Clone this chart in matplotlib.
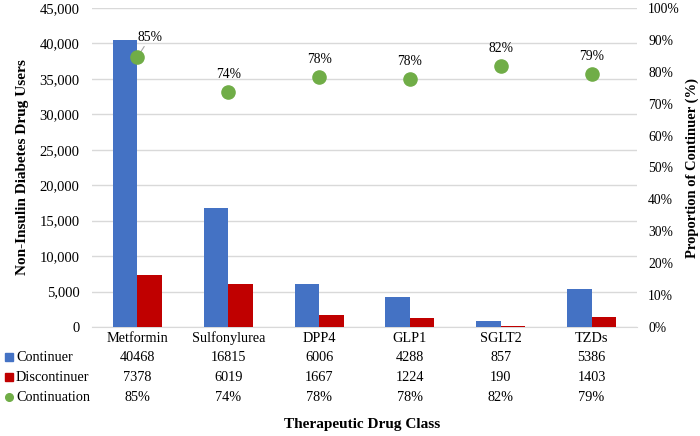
import matplotlib.pyplot as plt
import matplotlib.transforms as mtransforms
import numpy as np

plt.rcParams['font.family'] = ['Liberation Serif', 'DejaVu Serif']

classes = ['Metformin', 'Sulfonylurea', 'DPP4', 'GLP1', 'SGLT2', 'TZDs']
continuer = [40468, 16815, 6006, 4288, 857, 5386]
discontinuer = [7378, 6019, 1667, 1224, 190, 1403]
# proportion of continuers (%), dot positions
proportion = [84.6, 73.6, 78.3, 77.8, 81.9, 79.3]
prop_labels = ['85%', '74%', '78%', '78%', '82%', '79%']

blue = '#4472C4'
red = '#C00000'
green = '#70AD47'

fig = plt.figure(figsize=(7, 4.36), dpi=100)
ax = fig.add_axes([92 / 700, 1 - 327 / 436, 545 / 700, 319 / 436])
ax2 = ax.twinx()

x = np.arange(len(classes))
w = 0.27
ax.bar(x - w / 2, continuer, w, color=blue, zorder=3)
ax.bar(x + w / 2, discontinuer, w, color=red, zorder=3)

ax.set_xlim(-0.5, len(classes) - 0.5)
ax.set_ylim(0, 45000)
ax.set_yticks(np.arange(0, 45001, 5000))
ax.set_yticklabels([f'{v:,}' for v in range(0, 45001, 5000)], fontsize=10.5)
ax.yaxis.grid(True, color='#D9D9D9', linewidth=1, zorder=0)
ax.set_xticks([])
for s in ['top', 'left', 'right']:
    ax.spines[s].set_visible(False)
ax.spines['bottom'].set_color('#D9D9D9')
ax.tick_params(axis='y', length=0, pad=9)

ax2.scatter(x, proportion, s=90, color=green, zorder=4)
ax2.set_ylim(0, 100)
ax2.set_yticks(np.arange(0, 101, 10))
ax2.set_yticklabels([f'{v}%' for v in range(0, 101, 10)], fontsize=9.8)
ax2.tick_params(axis='y', length=0, pad=8)
for s in ax2.spines.values():
    s.set_visible(False)

for i, (p, lab) in enumerate(zip(proportion, prop_labels)):
    if i == 0:
        ax2.annotate(lab, (x[i], p), xytext=(x[i] + 0.14, p + 4.2), ha='center',
                     va='bottom', fontsize=9.8,
                     arrowprops=dict(arrowstyle='-', color='#A6A6A6', lw=0.8,
                                     shrinkA=0, shrinkB=0))
    else:
        ax2.text(x[i], p + 3.4, lab, ha='center', va='bottom', fontsize=9.8)

ax.set_ylabel('Non-Insulin Diabetes Drug Users', fontsize=11, fontweight='bold')
ax.yaxis.set_label_coords(-63 / 545, 0.5)
ax2.set_ylabel('Proportion of Continuer (%)', fontsize=10.5, fontweight='bold')
ax2.yaxis.set_label_coords(1 + 49 / 545, 0.5)

# data table under the chart
trans = mtransforms.blended_transform_factory(ax.transData, fig.transFigure)
def fy(py):
    return 1 - py / 436

for i, c in enumerate(classes):
    ax.text(x[i], fy(338), c, transform=trans, ha='center', va='center', fontsize=10.3)
    ax.text(x[i], fy(357), str(continuer[i]), transform=trans, ha='center', va='center', fontsize=10.3)
    ax.text(x[i], fy(377), str(discontinuer[i]), transform=trans, ha='center', va='center', fontsize=10.3)
    ax.text(x[i], fy(397), prop_labels[i], transform=trans, ha='center', va='center', fontsize=10.3)

rows = [('Continuer', 's', blue), ('Discontinuer', 's', red), ('Continuation', 'o', green)]
for (name, mk, col), py in zip(rows, [357, 377, 397]):
    fig.lines.append(plt.Line2D([9 / 700], [fy(py)], marker=mk, color=col,
                                markersize=5.5, linestyle='', transform=fig.transFigure))
    fig.text(16 / 700, fy(py), name, ha='left', va='center', fontsize=10.3)

fig.text(362 / 700, fy(424), 'Therapeutic Drug Class', ha='center', va='center',
         fontsize=11, fontweight='bold')

fig.savefig('out.png', dpi=100)
